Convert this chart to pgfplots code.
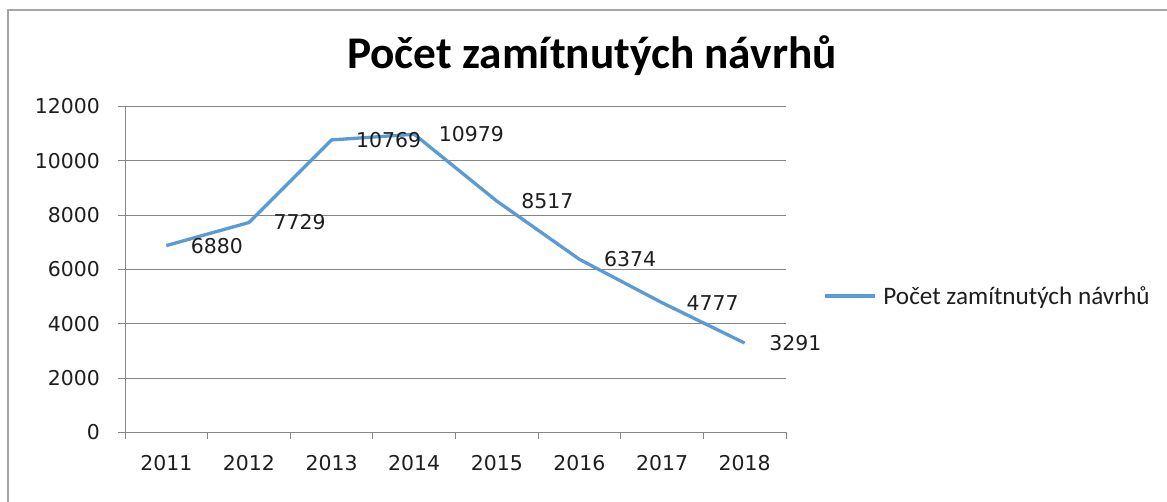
\documentclass[border=0pt]{standalone}
\usepackage{pgfplots}
\pgfplotsset{compat=1.18}
\usepackage{fontspec}
\setmainfont{DejaVu Sans}
\newfontfamily\calibri{Carlito}
\definecolor{lineblue}{RGB}{91,155,213}
\definecolor{gridgray}{RGB}{134,134,134}
\definecolor{framegray}{RGB}{166,166,166}
\definecolor{txt}{RGB}{30,30,30}
\begin{document}
\begin{tikzpicture}[x=1bp,y=1bp]
\useasboundingbox (0,0) rectangle (1167,502);
\fill[white] (0,0) rectangle (1167,502);
\draw[framegray, line width=2bp] (1170,492) -- (8,492) -- (8,-5);
\node[anchor=base, inner sep=0pt, text=black] at (592,433)
  {\calibri\bfseries\fontsize{45.5}{45.5}\selectfont Počet zamítnutých návrhů};
\begin{axis}[
  at={(125bp,69.5bp)}, anchor=south west,
  width=661bp, height=326bp, scale only axis,
  xmin=-0.5, xmax=7.5, ymin=0, ymax=12000,
  axis x line*=bottom, axis y line*=left,
  axis line style={-, draw=gridgray, line width=1bp},
  xtick={-0.5,0.5,...,7.5},
  x tick label as interval,
  xticklabels={2011,2012,2013,2014,2015,2016,2017,2018},
  ytick={0,2000,...,12000},
  scaled y ticks=false,
  ymajorgrids, grid style={draw=gridgray, line width=1bp},
  tick align=outside, major tick length=7bp,
  tick style={draw=gridgray, line width=1bp},
  /pgf/number format/assume math mode=true,
  /pgf/number format/1000 sep={},
  tick label style={font=\fontsize{20.5}{20.5}\selectfont, text=txt},
  yticklabel style={inner sep=0pt, xshift=-18bp},
  xticklabel style={inner sep=0pt, yshift=-16bp},
  nodes near coords,
  every node near coord/.append style={anchor=west, xshift=23bp, inner sep=0pt,
    font=\fontsize{20.5}{20.5}\selectfont, text=txt,
    /pgf/number format/1000 sep={}},
  legend style={at={(1.0559,0.4187)}, anchor=west, draw=none, fill=none,
    inner sep=0pt, font=\calibri\fontsize{25.3}{25.3}\selectfont, text=txt},
  legend cell align=left,
  legend image code/.code={\draw[#1] (0bp,0bp) -- (50bp,0bp); \path (55bp,0bp);},
  clip=false,
]
\addplot[lineblue, line width=3.3bp, mark=none] coordinates {
  (0,6880) (1,7729) (2,10769) (3,10979) (4,8517) (5,6374) (6,4777) (7,3291)
};
\addlegendentry{Počet zamítnutých návrhů}
\end{axis}
\end{tikzpicture}
\end{document}
